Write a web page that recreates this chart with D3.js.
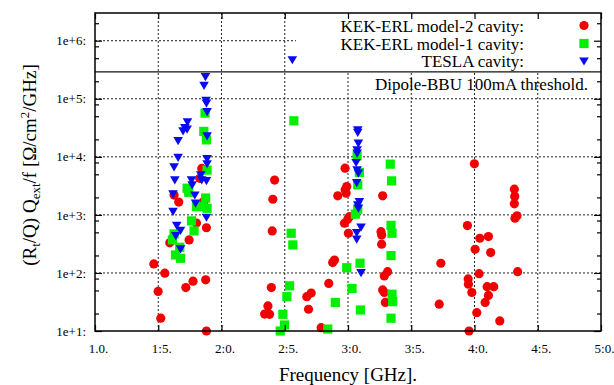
<!DOCTYPE html>
<html><head><meta charset="utf-8">
<script src="https://cdn.jsdelivr.net/npm/d3@7"></script>
<style>body{margin:0;background:#fff}svg{display:block}</style>
</head><body>
<svg id="c" width="614" height="385"></svg>
<script>
// ---- data ----
const m2Freq = [1.465,1.499,1.52,1.552,1.591,1.625,1.662,1.744,1.775,1.718,1.875,1.802,1.881,1.86,1.828,1.844,1.881,
  2.42,2.406,2.401,2.394,2.367,2.341,2.38,2.674,2.709,2.688,2.848,2.788,2.893,2.879,
  2.977,2.99,2.977,2.985,2.919,3.011,2.998,2.972,3.003,
  3.274,3.261,3.266,3.266,3.313,3.287,3.274,3.287,3.295,
  3.999,4.315,4.318,4.315,4.32,4.336,3.944,4.042,4.11,4.005,4.128,3.734,4.341,4.036,3.95,3.952,4.1,4.152,3.979,4.11,4.084,3.721,4.018,4.2,3.957];
const m2Val = [143,48,16.6,99,330,2190,1660,370,72,56,76,724,600,1700,4270,6300,10,
  3980,1860,530,56,27,19.6,19.4,39,45,23.7,66,11.4,167,151,
  6380,3080,2700,2370,2130,933,843,718,483,
  2130,513,452,313,105,89,51,46,31,
  7570,2770,2070,1550,877,962,655,396,423,256,224,147,105,97,79,64,58,58,46,41,31,29,20.7,14.9,10];

const m1Freq = [1.87,1.86,1.881,1.886,1.728,1.741,1.875,1.802,1.849,1.886,1.763,1.783,1.625,1.612,1.67,1.636,1.676,
  2.572,2.551,2.564,2.538,2.517,2.485,2.498,2.464,2.84,2.9,2.99,3.032,3.095,3.098,
  3.072,3.09,3.077,3.077,3.058,
  3.334,3.345,3.34,3.348,3.34,3.348,3.353,3.34];
const m1Val = [56600,27400,19600,5900,2880,2450,1950,1390,1390,1300,788,530,470,371,277,204,179,
  41700,483,304,60,39,19.4,12.7,10,10.8,31,123,54,147,23,
  10400,5370,3290,1250,1030,
  7480,3850,660,483,199,43,32,16.6];

const teslaFreq = [1.873,1.862,1.878,1.881,1.886,1.731,1.71,1.728,1.696,1.657,1.886,1.657,1.886,1.886,1.625,1.631,1.763,1.768,1.836,1.844,1.881,1.617,1.789,1.795,1.617,1.881,1.646,1.676,1.639,1.676,
  2.56,
  3.077,3.077,3.082,3.072,3.072,3.064,3.072,3.082,3.069,3.09,3.077,3.082,3.103,3.069,3.069,3.103];
const teslaVal = [240000,170000,94000,84000,60000,40000,32000,30000,28000,19000,23000,9800,9300,7600,6700,4000,4000,3300,4900,4000,3900,2300,2200,1600,1150,910,660,540,440,260,
  470000,
  29200,26300,17200,13200,11600,7980,5970,5240,3600,1690,1490,1310,614,495,381,101];

const bbuThreshold = 2.9e5;

const xTicks = [1.0,1.5,2.0,2.5,3.0,3.5,4.0,4.5,5.0];
const xTickLabels = ["1.0.","1:5.","2:0.","2:5.","3:0.","3:5.","4:0.","4:5.","5:0."];
const yTicks = [1e1,1e2,1e3,1e4,1e5,1e6];
const yTickLabels = ["1e+1:","1e+2:","1e+3:","1e+4:","1e+5:","1e+6:"];
const legendLabels = ["KEK-ERL model-2 cavity:","KEK-ERL model-1 cavity:","TESLA cavity:"];
const thresholdLabel = "Dipole-BBU 100mA threshold.";

// ---- layout ----
const L=95, R=601, T=13, B=331;
const FONT = '"Liberation Serif","Times New Roman",serif';
const svg = d3.select("#c");
const x = d3.scaleLinear().domain([1,5]).range([L,R]);
const y = d3.scaleLog().domain([10,3e6]).range([B,T]);

const minors = [];
for (let e=1;e<=6;e++) for (const m of [2,5,8]) { const v=m*Math.pow(10,e); if (v<3e6) minors.push(v); }

// grid
const grid = svg.append("g").attr("stroke","#222").attr("stroke-width",1).attr("stroke-dasharray","2,2");
grid.selectAll("line.gx").data(xTicks.slice(1,-1)).join("line")
  .attr("x1",d=>x(d)).attr("x2",d=>x(d)).attr("y1",T).attr("y2",B);
grid.selectAll("line.gy").data(yTicks.slice(1)).join("line")
  .attr("x1",L).attr("x2",R).attr("y1",d=>y(d)).attr("y2",d=>y(d));

// opaque key box
svg.append("rect").attr("x",296).attr("y",T).attr("width",R-296).attr("height",y(bbuThreshold)-T).attr("fill","#fff");

// points
const RED="#f00000", GREEN="#00f000", BLUE="#0a0af0";
const g = svg.append("g");
g.selectAll("circle").data(m2Freq.map((f,i)=>[f,m2Val[i]])).join("circle")
  .attr("cx",d=>x(d[0])).attr("cy",d=>y(d[1])).attr("r",4.6).attr("fill",RED);
g.selectAll("rect.sq").data(m1Freq.map((f,i)=>[f,m1Val[i]])).join("rect").attr("class","sq")
  .attr("x",d=>x(d[0])-4.6).attr("y",d=>y(d[1])-4.6).attr("width",9.2).attr("height",9.2).attr("fill",GREEN);
const tri = (cx,cy)=>`M${cx-4.8},${cy-3.6}L${cx+4.8},${cy-3.6}L${cx},${cy+4.6}Z`;
g.selectAll("path.tr").data(teslaFreq.map((f,i)=>[f,teslaVal[i]])).join("path").attr("class","tr")
  .attr("d",d=>tri(x(d[0]),y(d[1]))).attr("fill",BLUE);

// threshold
svg.append("line").attr("x1",L).attr("x2",R).attr("y1",y(bbuThreshold)).attr("y2",y(bbuThreshold))
  .attr("stroke","#111").attr("stroke-width",1.2);

// axes
const axB = d3.axisBottom(x).tickValues(xTicks).tickSize(-6).tickPadding(13).tickFormat((d,i)=>xTickLabels[i]);
const axT = d3.axisTop(x).tickValues(xTicks).tickSize(-6).tickFormat("");
const axLft = d3.axisLeft(y).tickValues(yTicks).tickSize(-7).tickPadding(9).tickFormat((d,i)=>yTickLabels[i]);
const axRgt = d3.axisRight(y).tickValues(yTicks).tickSize(-7).tickFormat("");
const axLm = d3.axisLeft(y).tickValues(minors).tickSize(-4).tickFormat("");
const axRm = d3.axisRight(y).tickValues(minors).tickSize(-4).tickFormat("");
function style(sel){ sel.attr("font-family",FONT); sel.select(".domain").remove(); sel.selectAll("line").attr("stroke","#000").attr("stroke-width",1.2);
  sel.selectAll("text").attr("font-family",FONT).attr("font-size",13).attr("fill","#000"); }
svg.append("g").attr("transform",`translate(0,${B})`).call(axB).call(style).selectAll("text").attr("dx",3);
svg.append("g").attr("transform",`translate(0,${T})`).call(axT).call(style);
svg.append("g").attr("transform",`translate(${L},0)`).call(axLft).call(style);
svg.append("g").attr("transform",`translate(${R},0)`).call(axRgt).call(style);
svg.append("g").attr("transform",`translate(${L},0)`).call(axLm).call(style);
svg.append("g").attr("transform",`translate(${R},0)`).call(axRm).call(style);

// border
svg.append("rect").attr("x",L).attr("y",T).attr("width",R-L).attr("height",B-T)
  .attr("fill","none").attr("stroke","#000").attr("stroke-width",1.5);

// legend
const ky=[25.5,43.5,61], kb=[31.5,49.5,67];
const kx=584;
legendLabels.forEach((t,i)=>{
  svg.append("text").attr("x",524).attr("y",kb[i]).attr("text-anchor","end")
    .attr("font-family",FONT).attr("font-size",17).text(t);
});
svg.append("circle").attr("cx",kx).attr("cy",ky[0]).attr("r",4.6).attr("fill",RED);
svg.append("rect").attr("x",kx-4.6).attr("y",ky[1]-4.6).attr("width",9.2).attr("height",9.2).attr("fill",GREEN);
svg.append("path").attr("d",tri(kx,ky[2])).attr("fill",BLUE);
svg.append("text").attr("x",588).attr("y",90).attr("text-anchor","end")
  .attr("font-family",FONT).attr("font-size",17).text(thresholdLabel);

// axis titles
svg.append("text").attr("x",348).attr("y",381).attr("text-anchor","middle")
  .attr("font-family",FONT).attr("font-size",19).text("Frequency [GHz].");
const yt = svg.append("text").attr("transform","translate(36,165) rotate(-90)").attr("text-anchor","middle")
  .attr("font-family",FONT).attr("font-size",19);
yt.append("tspan").text("(R");
yt.append("tspan").attr("dy",4).attr("font-size",13).text("t");
yt.append("tspan").attr("dy",-4).text("/Q) Q");
yt.append("tspan").attr("dy",4).attr("font-size",13).text("ext");
yt.append("tspan").attr("dy",-4).text("/f [Ω/cm");
yt.append("tspan").attr("dy",-7).attr("font-size",13).text("2");
yt.append("tspan").attr("dy",7).text("/GHz]");
</script>
</body></html>
